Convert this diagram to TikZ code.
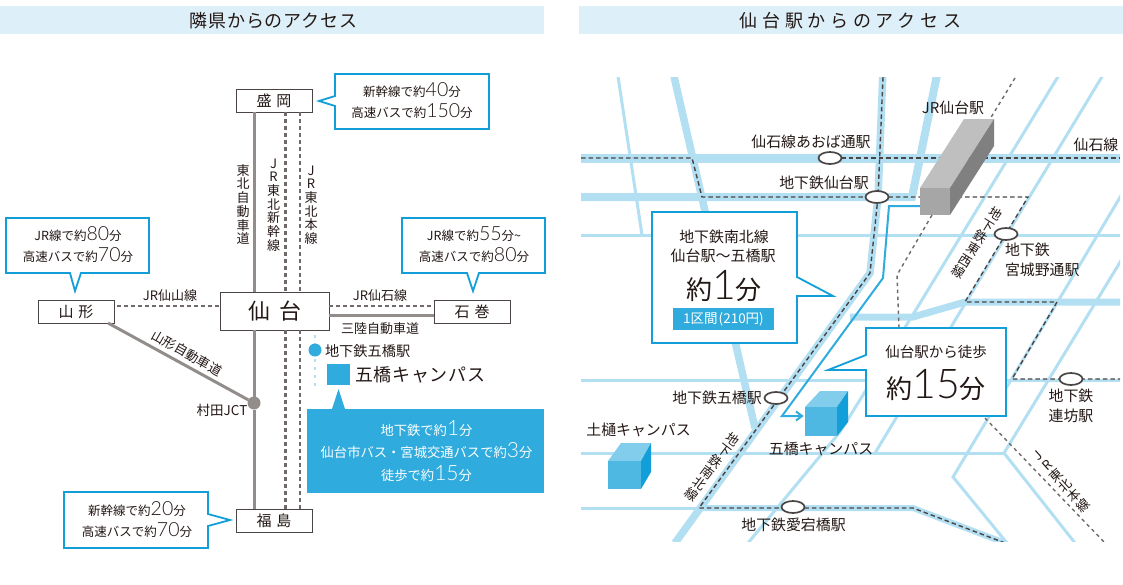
\documentclass[tikz,border=0pt]{standalone}
\usepackage{fontspec}
\setmainfont{Noto Sans CJK JP}
\newfontfamily\numf{Lato Light}
\usetikzlibrary{arrows.meta,shapes.geometric}
\definecolor{ink}{HTML}{231815}
\definecolor{band}{HTML}{DDEFF8}
\definecolor{mapb}{HTML}{B3DFF2}
\definecolor{cyanb}{HTML}{129FD9}
\definecolor{solidb}{HTML}{2FABDD}
\definecolor{roadg}{HTML}{928D8A}
\definecolor{dashg}{HTML}{6F6A68}
\definecolor{dashd}{HTML}{4A4544}
\newcommand{\fs}[1]{\fontsize{#1}{#1}\selectfont}
\newcommand{\nm}[1]{{\numf\fontsize{19.5}{19}\selectfont #1}}
\newcommand{\nmb}[1]{{\numf\fontsize{41}{40}\selectfont #1}}
\newcommand{\nmw}[1]{{\numf\fontsize{21}{20}\selectfont #1}}
\tikzset{
  every node/.style={text=ink,inner sep=0pt,outer sep=0pt},
  headband/.style={fill=band,draw=none,minimum height=28pt},
  headtext/.style={font=\addfontfeature{LetterSpace=5}\fontsize{18}{18}\selectfont},
  headtextwide/.style={font=\addfontfeature{LetterSpace=26}\fontsize{18}{18}\selectfont},
  citybox/.style={draw=dashd,line width=0.9pt,fill=white,font=\fs{15},minimum height=23pt,minimum width=76pt},
  road/.style={draw=roadg,line width=3pt},
  rail/.style={draw=dashg,line width=2.6pt,dash pattern=on 3.5pt off 3.5pt},
  callout/.style={draw=cyanb,line width=1.8pt,fill=white,line join=miter},
  calltext/.style={align=center,font=\fontsize{12.5}{21}\selectfont},
  lab/.style={font=\fs{13}},
  tate/.style={align=center,font=\fontsize{13}{13.7}\selectfont},
  mapthin/.style={draw=mapb,line width=3pt},
  mapthick/.style={draw=mapb,line width=7.5pt},
  trainline/.style={draw=dashd,line width=1.4pt,dash pattern=on 4.5pt off 3pt},
  jrline/.style={draw=dashg,line width=1.4pt,dash pattern=on 3.5pt off 3.5pt},
  station/.style={draw=dashd,line width=1.7pt,fill=white,ellipse,minimum width=23pt,minimum height=12pt},
  maplab/.style={font=\fs{14.9}},
  maplabs/.style={align=center,font=\fontsize{14.9}{20}\selectfont},
  roted/.style={align=center,font=\fontsize{13}{13.7}\selectfont},
}
\begin{document}
\begin{tikzpicture}[x=1pt,y=-1pt]
\useasboundingbox (0,0) rectangle (1123,584);
% header bands
\node[headband,minimum width=544pt,anchor=north west] (bandL) at (0,6) {};
\node[headband,minimum width=544pt,anchor=north west] (bandR) at (579,6) {};
\node[headtext] (headL) at (273.5,21) {隣県からのアクセス};
\node[headtextwide] (headR) at (850.5,21) {仙台駅からのアクセス};

% ---------- left diagram ----------
\node[citybox,anchor=north west] (morioka) at (236,89) {盛\hspace{5pt}岡};
\node[citybox,anchor=north west] (yamagata) at (38,300) {山\hspace{5pt}形};
\node[citybox,anchor=north west] (ishinomaki) at (434,300) {石\hspace{5pt}巻};
\node[citybox,anchor=north west] (fukushima) at (236,509) {福\hspace{5pt}島};
\node[draw=dashd,line width=0.9pt,fill=white,font=\fs{22},minimum width=109pt,minimum height=38pt,anchor=north west] (sendai) at (220,292) {仙\hspace{9pt}台};
\node[circle,fill=roadg,minimum size=13pt] (jct) at (254,403) {};
\coordinate (shin) at (285.5,200);
\coordinate (hon) at (300,200);
\coordinate (sanriku) at (340,315.5);
\coordinate (senzan) at (200,306);
\draw[road] (jct |- morioka.south) -- (jct |- sendai.north);
\draw[road] (jct |- sendai.south) -- (jct);
\draw[road] (jct) -- (jct |- fukushima.north);
\draw[road] (yamagata.south east) ++(-6,0) -- (jct);
\draw[road] (sendai.east |- sanriku) -- (ishinomaki.west |- sanriku);
\draw[rail] (shin |- morioka.south) -- (shin |- sendai.north);
\draw[rail] (shin |- sendai.south) -- (shin |- fukushima.north);
\draw[rail,line width=2pt] (hon |- morioka.south) -- (hon |- sendai.north);
\draw[rail,line width=2pt] (hon |- sendai.south) -- (hon |- fukushima.north);
\draw[rail] ([xshift=3pt]yamagata.east |- senzan) -- (sendai.west |- senzan);
\draw[rail] (sendai.east |- senzan) -- (ishinomaki.west |- senzan);

\node[tate] (tohokuroad) at (243,204.5) {東\\北\\自\\動\\車\\道};
\node[tate] (shinkansen) at (273.5,205) {J\\R\\東\\北\\新\\幹\\線};
\node[tate] (honsen) at (311,205) {J\\R\\東\\北\\本\\線};
\node[lab] (l1) at (170,296) {JR仙山線};
\node[lab] (l2) at (380,296) {JR仙石線};
\node[lab] (l3) at (380,329) {三陸自動車道};
\node[lab,rotate=-29.5] (l4) at (187,353) {山形自動車道};
\node[font=\fs{13.5}] (l5) at (222,410) {村田JCT};

% callouts left
\draw[callout] (335,74) -- (489,74) -- (489,129) -- (335,129) -- (335,106) -- (319,101) -- (335,96) -- cycle;
\node[calltext] (c1) at (412,101) {新幹線で約\nm{40}分\\高速バスで約\nm{150}分};
\draw[callout] (6,218) -- (149,218) -- (149,273) -- (81,273) -- (75,291) -- (70,273) -- (6,273) -- cycle;
\node[calltext] (c2) at (78,245) {JR線で約\nm{80}分\\高速バスで約\nm{70}分};
\draw[callout] (402,218) -- (545,218) -- (545,273) -- (479,273) -- (473,291) -- (467,273) -- (402,273) -- cycle;
\node[calltext] (c3) at (474,245) {JR線で約\nm{55}分\textasciitilde\\高速バスで約\nm{80}分};
\draw[callout] (64,492) -- (208,492) -- (208,514) -- (230,520) -- (208,526) -- (208,548) -- (64,548) -- cycle;
\node[calltext] (c4) at (137,520) {新幹線で約\nm{20}分\\高速バスで約\nm{70}分};

% campus inset
\coordinate (subtop) at (315,335);
\coordinate (subbot) at (315,390);
\draw[draw=mapb,line width=2.5pt,dash pattern=on 3pt off 5pt] (subtop) -- (subbot);
\node[circle,fill=solidb,minimum size=13pt] (gdot) at (315,350) {};
\node[anchor=west,font=\fs{14.2}] (gsta) at (325,351) {地下鉄五橋駅};
\node[fill=solidb,minimum width=23pt,minimum height=21pt] (gsq) at (338.5,374.5) {};
\node[anchor=west,font=\addfontfeature{LetterSpace=4}\fs{18}] (gname) at (355,375) {五橋キャンパス};
\fill[solidb] (332,409) -- (338.5,389) -- (345,409) -- cycle;
\node[fill=solidb,minimum width=237pt,minimum height=84pt,anchor=north west] (gbox) at (307,409) {};
\node[calltext,text=white,font=\fontsize{13.3}{22.5}\selectfont] (gtext) at (426.5,451) {地下鉄で約\nmw{1}分\\仙台市バス・宮城交通バスで約\nmw{3}分\\徒歩で約\nmw{15}分};

% ---------- right map ----------
\begin{scope}
\clip (581,77) rectangle (1120,541);
% thin streets
\draw[mapthin] (581,235) -- (1120,235);
\draw[mapthin] (581,380) -- (1120,380);
\draw[mapthin] (581,453) -- (1004,453);
\draw[mapthin] (581,508) -- (700,508);
\draw[mapthin] (617,70) -- (642,235);
\draw[mapthin] (1062,70) -- (917,308) -- (840,432) -- (748,543);
\draw[mapthin] (1106,70) -- (875,453);
\draw[mapthin] (1125,189) -- (953,477) -- (1007,543);
\draw[mapthin] (1125,254) -- (1004,453) -- (1075,543);
% thick streets
\draw[mapb,line width=9pt] (581,158.5) -- (1120,158.5);
\draw[mapb,line width=8pt] (581,197) -- (912,197) -- (938,70);
\draw[mapthick] (672.5,70) -- (755,428);
\draw[mapthick] (883,70) -- (878,197) -- (870,273) -- (675,543);
\draw[mapb,line width=7pt] (850,317) -- (913,317) -- (965,302) -- (1120,302);
\draw[mapb,line width=6pt] (698,508) -- (913,508) -- (1005,543);
% rail dashes
\draw[trainline] (581,158) -- (692,158) -- (702,197) -- (925,197);
\draw[trainline] (841,158) -- (1120,158);
\draw[trainline] (950,197) -- (1028,197) -- (965,302) -- (1057,302) -- (1012,379) -- (1120,379);
\draw[trainline] (883,77) -- (878,197) -- (870,273) -- (699,508) -- (913,508) -- (1005,543);
\draw[jrline] (1015,78) -- (990,119);
\draw[jrline] (932,215) -- (897,275) -- (899,328);
\draw[jrline] (985,418) -- (1105,543);
\end{scope}
% walking route
\draw[draw=solidb,line width=2pt] (925,206) -- (889,206) -- (883,278) -- (782,416) -- (800,416);
\draw[draw=solidb,line width=2pt] (796,411.5) -- (802,416) -- (796,420.5);
% JR building
\fill[fill=black!25] (920,188) -- (950,188) -- (994,119) -- (964,119) -- cycle;
\fill[fill=black!35] (920,188) rectangle (950,215);
\fill[fill=black!50] (950,188) -- (994,119) -- (994,146) -- (950,215) -- cycle;
% cubes
\fill[fill=solidb!60] (805,407) -- (837,407) -- (848,391) -- (820,391) -- cycle;
\fill[fill=solidb!85] (805,407) rectangle (837,436);
\fill[fill=cyanb] (837,407) -- (848,391) -- (848,422) -- (837,436) -- cycle;
\fill[fill=solidb!60] (608,461) -- (641,461) -- (651,443) -- (621,443) -- cycle;
\fill[fill=solidb!85] (608,461) rectangle (641,489);
\fill[fill=cyanb] (641,461) -- (651,443) -- (651,472) -- (641,489) -- cycle;
% stations
\node[station] (s1) at (830,158) {};
\node[station] (s2) at (877,197) {};
\node[station] (s3) at (1006,234) {};
\node[station] (s4) at (1071,379) {};
\node[station] (s5) at (776,398) {};
\node[station] (s6) at (793,507) {};
% map labels
\node[maplab] (t1) at (811,142) {仙石線あおば通駅};
\node[maplab] (t2) at (824,183) {地下鉄仙台駅};
\node[maplab] (t3) at (953,108) {JR仙台駅};
\node[maplab] (t4) at (1096,145) {仙石線};
\node[maplabs,anchor=west,align=left] (t5) at (1005,260) {地下鉄\\宮城野通駅};
\node[maplab] (t6) at (717,398) {地下鉄五橋駅};
\node[maplab] (t7) at (821,449) {五橋キャンパス};
\node[maplab] (t8) at (638.5,430) {土樋キャンパス};
\node[maplab] (t9) at (793.5,525) {地下鉄愛宕橋駅};
\node[maplabs] (t10) at (1071,406) {地下鉄\\連坊駅};
\node[roted,rotate=-37] (r1) at (712,467) {地\\下\\鉄\\南\\北\\線};
\node[roted,rotate=-32] (r2) at (977,243) {地\\下\\鉄\\東\\西\\線};
\node[roted,rotate=42] (r3) at (1061,481) {J\\R\\東\\北\\本\\線};
% map callouts
\draw[callout] (652,212) -- (797,212) -- (797,277) -- (833,296) -- (797,296) -- (797,343) -- (652,343) -- cycle;
\node[font=\fs{14.9}] (m1) at (724,237) {地下鉄南北線};
\node[font=\fs{15}] (m2) at (723,256) {仙台駅～五橋駅};
\node[font=\fs{26}] (m3) at (724,286) {約\nmb{1}分};
\node[fill=solidb,minimum width=101pt,minimum height=22pt,text=white,font=\fs{13.5}] (m4) at (723.5,319) {1区間\hspace{1pt}(210円)};
\draw[callout] (866,328) -- (1006,328) -- (1006,416) -- (866,416) -- (866,370) -- (828,370) -- (866,355) -- cycle;
\node[font=\fs{14.5}] (m5) at (936,352) {仙台駅から徒歩};
\node[font=\fs{26}] (m6) at (936,385) {約\nmb{15}分};
\end{tikzpicture}
\end{document}
